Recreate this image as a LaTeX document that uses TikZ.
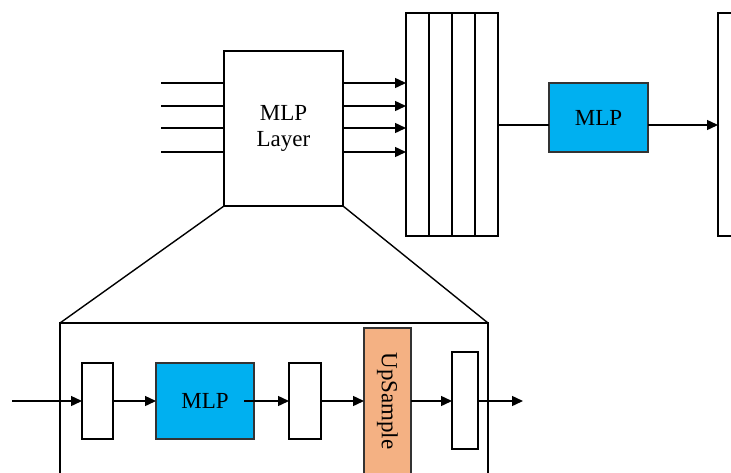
\documentclass[tikz,border=0pt]{standalone}
\usepackage{fontspec}
\setmainfont{Liberation Serif}
\usetikzlibrary{arrows.meta}
\definecolor{mlpblue}{RGB}{0,176,240}
\definecolor{uporange}{RGB}{244,177,131}
\begin{document}
\begin{tikzpicture}[x=1pt,y=-1pt,
  line width=1.4pt,
  box/.style={draw=black,fill=white,inner sep=0pt,outer sep=0pt,
    font=\fontsize{23}{26}\selectfont,align=center},
  bluebox/.style={box,fill=mlpblue,draw=black!80},
  arr/.style={-{Triangle[length=11pt,width=10pt]}},
  plain/.style={-}]
\useasboundingbox (0,0) rectangle (731,472);
% ---- top part ----
\node[box,minimum width=119pt,minimum height=155pt] (layer) at (283.5,128.5) {MLP\\Layer};
\foreach \i/\xc in {1/417.5,2/440.5,3/463.5,4/486.5}
  \node[box,minimum width=23pt,minimum height=223pt] (c\i) at (\xc,124.5) {};
\foreach \i/\yy in {1/83,2/106,3/128,4/152}{
  \coordinate (in\i) at (161,\yy);
  \draw[plain] (in\i) -- (in\i -| layer.west);
  \draw[arr] (in\i -| layer.east) -- (in\i -| c1.west);
}
\node[bluebox,minimum width=99pt,minimum height=69pt] (mlp1) at (598.5,117.5) {MLP};
\node[box,minimum width=60pt,minimum height=223pt,anchor=north west] (right) at (718,13) {};
\coordinate (s) at (498,125);
\draw[plain] (s) -- (s -| mlp1.west);
\draw[arr] (s -| mlp1.east) -- (s -| right.west);
% ---- zoom part ----
\node[box,fill=none,minimum width=428pt,minimum height=197pt,anchor=north west] (big) at (60,323) {};
\draw[plain] (layer.south west) -- (big.north west);
\draw[plain] (layer.south east) -- (big.north east);
\coordinate (inp) at (12,401);
\node[box,minimum width=31pt,minimum height=76pt] (b1) at (97.5,401) {};
\node[bluebox,minimum width=98pt,minimum height=76pt] (mlp2) at (205,401) {MLP};
\coordinate (m2) at (244,401);
\node[box,minimum width=32pt,minimum height=76pt] (b3) at (305,401) {};
\node[box,fill=uporange,draw=black!80,minimum width=47pt,minimum height=184pt,anchor=north west] (up) at (364,328) {};
\node[font=\fontsize{23}{26}\selectfont,rotate=-90,inner sep=0pt] (uptext) at (387.5,401) {UpSample};
\node[box,minimum width=26pt,minimum height=97pt] (b5) at (465,400.5) {};
\coordinate (outp) at (523,401);
\draw[arr] (inp) -- (b1.west);
\draw[arr] (b1.east) -- (mlp2.west);
\draw[arr] (m2) -- (b3.west);
\draw[arr] (b3.east) -- (b3.east -| up.west);
\draw[arr] (b3.east -| up.east) -- (b5.west |- b3.east);
\draw[arr] (b5.east |- b3.east) -- (outp);
\end{tikzpicture}
\end{document}
